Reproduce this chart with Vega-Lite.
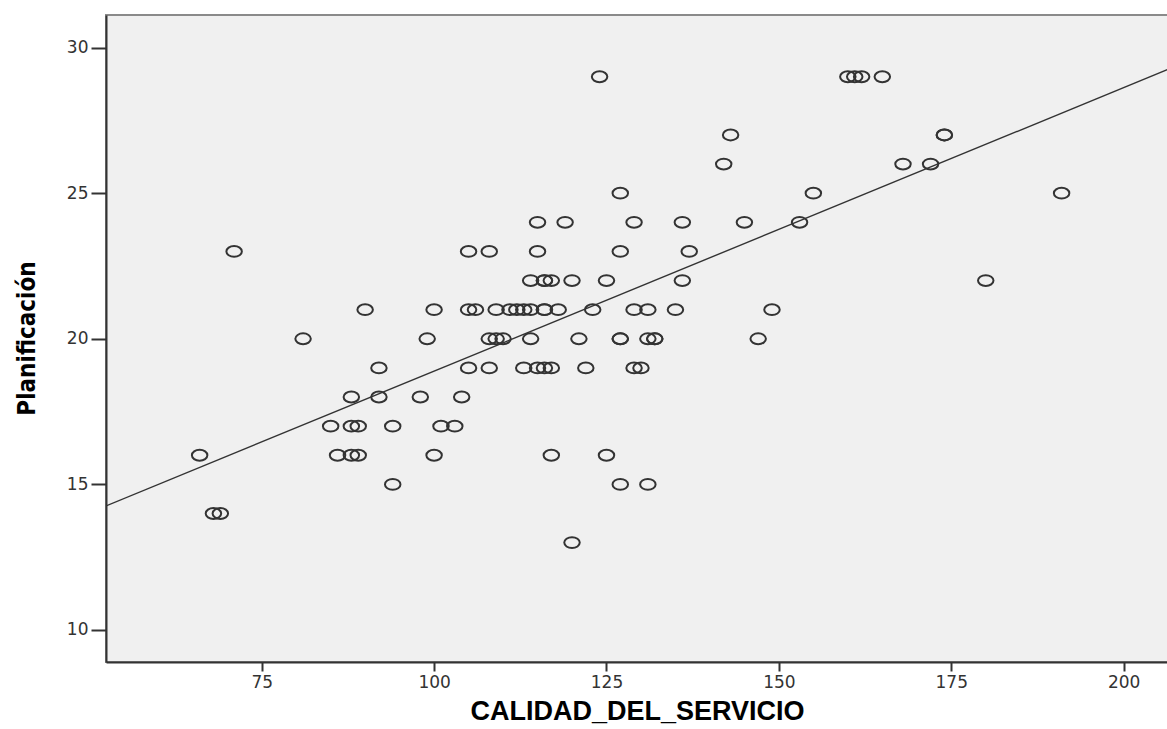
{
  "$schema": "https://vega.github.io/schema/vega-lite/v6.json",
  "width": 1062,
  "height": 647,
  "autosize": {"type": "none"},
  "padding": {"left": 106, "top": 15, "right": 0, "bottom": 67},
  "background": "white",
  "config": {
    "view": {"fill": "#F0F0F0", "stroke": "#8a8a8a", "strokeWidth": 2},
    "axis": {
      "grid": false,
      "domainColor": "#333333",
      "domainWidth": 2,
      "tickColor": "#333333",
      "tickWidth": 2,
      "labelFont": "DejaVu Sans",
      "labelFontSize": 17,
      "labelColor": "#333333",
      "titleColor": "#000000",
      "titleFontWeight": "bold"
    }
  },
  "datasets": {
    "points": [
      {"x": 124, "y": 29}, {"x": 160, "y": 29}, {"x": 161, "y": 29}, {"x": 162, "y": 29}, {"x": 165, "y": 29},
      {"x": 143, "y": 27}, {"x": 174, "y": 27}, {"x": 174, "y": 27},
      {"x": 142, "y": 26}, {"x": 168, "y": 26}, {"x": 172, "y": 26},
      {"x": 127, "y": 25}, {"x": 155, "y": 25}, {"x": 191, "y": 25},
      {"x": 115, "y": 24}, {"x": 119, "y": 24}, {"x": 129, "y": 24}, {"x": 136, "y": 24}, {"x": 145, "y": 24}, {"x": 153, "y": 24},
      {"x": 71, "y": 23}, {"x": 105, "y": 23}, {"x": 108, "y": 23}, {"x": 115, "y": 23}, {"x": 127, "y": 23}, {"x": 137, "y": 23},
      {"x": 114, "y": 22}, {"x": 116, "y": 22}, {"x": 116, "y": 22}, {"x": 117, "y": 22}, {"x": 120, "y": 22}, {"x": 125, "y": 22}, {"x": 136, "y": 22}, {"x": 180, "y": 22},
      {"x": 90, "y": 21}, {"x": 100, "y": 21}, {"x": 105, "y": 21}, {"x": 106, "y": 21}, {"x": 109, "y": 21}, {"x": 111, "y": 21}, {"x": 112, "y": 21}, {"x": 113, "y": 21}, {"x": 114, "y": 21}, {"x": 116, "y": 21}, {"x": 116, "y": 21}, {"x": 118, "y": 21}, {"x": 123, "y": 21}, {"x": 129, "y": 21}, {"x": 131, "y": 21}, {"x": 135, "y": 21}, {"x": 149, "y": 21},
      {"x": 81, "y": 20}, {"x": 99, "y": 20}, {"x": 108, "y": 20}, {"x": 109, "y": 20}, {"x": 110, "y": 20}, {"x": 114, "y": 20}, {"x": 121, "y": 20}, {"x": 127, "y": 20}, {"x": 127, "y": 20}, {"x": 131, "y": 20}, {"x": 132, "y": 20}, {"x": 132, "y": 20}, {"x": 147, "y": 20},
      {"x": 92, "y": 19}, {"x": 105, "y": 19}, {"x": 108, "y": 19}, {"x": 113, "y": 19}, {"x": 115, "y": 19}, {"x": 116, "y": 19}, {"x": 117, "y": 19}, {"x": 122, "y": 19}, {"x": 129, "y": 19}, {"x": 130, "y": 19},
      {"x": 88, "y": 18}, {"x": 92, "y": 18}, {"x": 98, "y": 18}, {"x": 104, "y": 18},
      {"x": 85, "y": 17}, {"x": 88, "y": 17}, {"x": 89, "y": 17}, {"x": 94, "y": 17}, {"x": 101, "y": 17}, {"x": 103, "y": 17},
      {"x": 66, "y": 16}, {"x": 86, "y": 16}, {"x": 88, "y": 16}, {"x": 89, "y": 16}, {"x": 100, "y": 16}, {"x": 117, "y": 16}, {"x": 125, "y": 16},
      {"x": 94, "y": 15}, {"x": 127, "y": 15}, {"x": 131, "y": 15},
      {"x": 68, "y": 14}, {"x": 69, "y": 14},
      {"x": 120, "y": 13}
    ],
    "fit": [
      {"x": 52.42, "y": 14.26},
      {"x": 206.43, "y": 29.25}
    ]
  },
  "layer": [
    {
      "data": {"name": "fit"},
      "mark": {"type": "line", "color": "#333333", "strokeWidth": 1.4, "clip": true},
      "encoding": {
        "x": {"field": "x", "type": "quantitative", "scale": {"domain": [52.42, 206.43], "nice": false, "zero": false}},
        "y": {"field": "y", "type": "quantitative", "scale": {"domain": [8.9, 31.12], "nice": false, "zero": false}}
      }
    },
    {
      "data": {"name": "points"},
      "mark": {
        "type": "point",
        "shape": "M -1 0 A 1 0.7 0 1 0 1 0 A 1 0.7 0 1 0 -1 0 Z",
        "filled": false,
        "size": 240,
        "stroke": "#333333",
        "strokeWidth": 2,
        "opacity": 1,
        "clip": true
      },
      "encoding": {
        "x": {
          "field": "x",
          "type": "quantitative",
          "scale": {"domain": [52.42, 206.43], "nice": false, "zero": false},
          "axis": {
            "title": "CALIDAD_DEL_SERVICIO",
            "values": [75, 100, 125, 150, 175, 200],
            "tickSize": 9,
            "labelPadding": 3,
            "titleFont": "Liberation Sans",
            "titleFontSize": 27,
            "titleBaseline": "alphabetic",
            "titleY": 57
          }
        },
        "y": {
          "field": "y",
          "type": "quantitative",
          "scale": {"domain": [8.9, 31.12], "nice": false, "zero": false},
          "axis": {
            "title": "Planificación",
            "values": [10, 15, 20, 25, 30],
            "tickSize": 15,
            "labelPadding": 3,
            "titleFont": "DejaVu Sans Condensed, Liberation Sans",
            "titleFontSize": 24,
            "titleAngle": -90,
            "titleBaseline": "alphabetic",
            "titleAlign": "center",
            "titleX": -72,
            "titleY": 323
          }
        }
      }
    }
  ]
}
